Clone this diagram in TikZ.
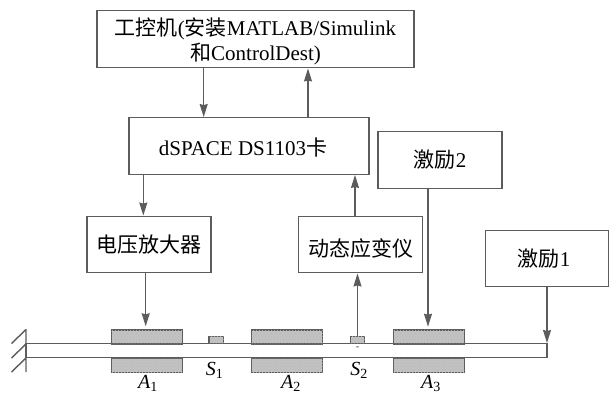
\documentclass[tikz,border=0pt]{standalone}
\usepackage{fontspec}
\setmainfont{Liberation Serif}
\newfontfamily\cjk{Noto Sans CJK SC}
\usetikzlibrary{arrows.meta,patterns}
\definecolor{ln}{gray}{0.36}
\definecolor{fillg}{gray}{0.76}
\tikzset{x=1pt,y=-1pt,
  blockbox/.style={draw=ln,line width=1.4pt,fill=white,align=center,inner sep=0pt,font=\fontsize{21}{24.5}\selectfont},
  conn/.style={draw=ln,line width=1.3pt,-{Stealth[length=13pt,width=8pt,inset=1pt]}},
  act/.style={draw=ln,line width=1.4pt,fill=fillg,postaction={pattern=crosshatch dots,pattern color=gray!55!white},inner sep=0pt},
  lbl/.style={inner sep=0pt,anchor=base,font=\fontsize{20}{20}\selectfont}}
\newcommand{\lab}[2]{\textit{#1}\textsubscript{#2}}
\begin{document}
\begin{tikzpicture}
\useasboundingbox (0,0) rectangle (609,395);
\node[blockbox,minimum width=317pt,minimum height=57.5pt] (pc) at (255.5,39) {\rule{0pt}{22pt}{\cjk 工控机}({\cjk 安装}MATLAB/Simulink\\{\cjk 和}ControlDest)};
\node[blockbox,minimum width=240pt,minimum height=56.5pt] (ds) at (249,146) {\rule{0pt}{20pt}dSPACE DS1103{\cjk 卡}\hspace{12pt}};
\node[blockbox,minimum width=124pt,minimum height=56.5pt] (amp) at (149,244.5) {{\cjk 电压放大器}};
\node[blockbox,minimum width=123.5pt,minimum height=56.5pt] (dyn) at (360.5,244.5) {\rule{0pt}{26pt}{\cjk 动态应变仪}};
\node[blockbox,minimum width=124pt,minimum height=57pt] (e2) at (440,160) {{\cjk 激励}2};
\node[blockbox,minimum width=123pt,minimum height=56.5pt] (e1) at (547,258.5) {{\cjk 激励}1\hspace{6pt}};
% beam
\draw[draw=ln,line width=1.4pt] (26,343.3) rectangle (547,357.3);
\draw[draw=ln,line width=1.4pt] (26,329) -- (26,372) (26,329.5) -- (11.5,343.5) (26,344) -- (11.5,358) (26,358) -- (11.5,372);
\foreach \n/\x in {a/110.7,b/251,c/392.7}{
  \node[act,minimum width=71pt,minimum height=14pt,anchor=north west] (\n t) at (\x,329.3) {};
  \node[act,minimum width=71pt,minimum height=14.5pt,anchor=north west] (\n b) at (\x,357.3) {};
}
\node[act,minimum width=14.5pt,minimum height=7pt] (s1) at (216.3,339.8) {};
\node[act,minimum width=14pt,minimum height=7pt] (s2) at (357.5,339.8) {};
\node[inner sep=0pt,font=\fontsize{9}{9}\selectfont] (dot) at (357.5,348.5) {-};
\coordinate (tipe1) at (547,343);
\coordinate (tipa) at (145.7,326.3);
\coordinate (tipc) at (428,326.7);
\draw[conn] (pc.south -| 203.7,0) -- (ds.north -| 203.7,0);
\draw[conn] (ds.north -| 308,0) -- (pc.south -| 308,0);
\draw[conn] (ds.south -| 143.3,0) -- (amp.north -| 143.3,0);
\draw[conn] (dyn.north -| 355,0) -- (ds.south -| 355,0);
\draw[conn] (amp.south -| tipa) -- (tipa);
\draw[conn] (s2.north) -- (dyn.south -| s2.north);
\draw[conn] (e2.south -| tipc) -- (tipc);
\draw[conn] (e1.south -| tipe1) -- (tipe1);
\node[lbl] (ls1) at (214.5,375) {\lab{S}{1}};
\node[lbl] (ls2) at (359,375) {\lab{S}{2}};
\node[lbl] (la1) at (148,388) {\lab{A}{1}};
\node[lbl] (la2) at (291,388) {\lab{A}{2}};
\node[lbl] (la3) at (431,388) {\lab{A}{3}};
\end{tikzpicture}
\end{document}
